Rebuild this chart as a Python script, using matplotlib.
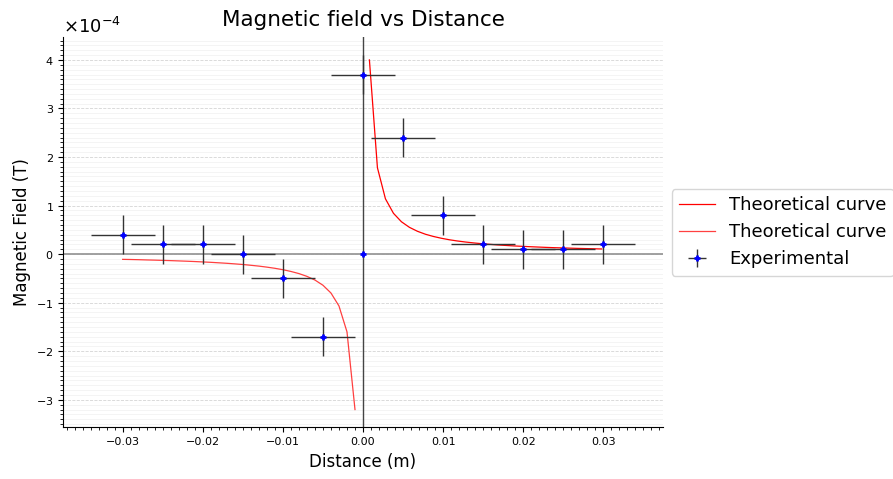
import numpy as np
import matplotlib
matplotlib.use('Agg')
import matplotlib.pyplot as plt
from matplotlib.ticker import MultipleLocator

# experimental data (distance in m, field in T)
exp_x = [-0.03, -0.025, -0.02, -0.015, -0.01, -0.005, 0.0, 0.0,
         0.005, 0.01, 0.015, 0.02, 0.025, 0.03]
exp_y = [0.4e-4, 0.2e-4, 0.2e-4, 0.0, -0.5e-4, -1.7e-4, 0.0, 3.7e-4,
         2.4e-4, 0.8e-4, 0.2e-4, 0.1e-4, 0.1e-4, 0.2e-4]
exp_xerr = [0.004, 0.004, 0.004, 0.004, 0.004, 0.004, 0.0, 0.004,
            0.004, 0.004, 0.004, 0.004, 0.004, 0.004]
exp_yerr = [0.4e-4, 0.4e-4, 0.4e-4, 0.4e-4, 0.4e-4, 0.4e-4, 0.0, 0.4e-4,
            0.4e-4, 0.4e-4, 0.4e-4, 0.4e-4, 0.4e-4, 0.4e-4]

# theoretical curve, positive side (units 1e-4 T)
theo_pos_x = [0.0008, 0.0018, 0.0028, 0.0038, 0.0048, 0.0058, 0.0068, 0.0078,
              0.0088, 0.0098, 0.0108, 0.0118, 0.0128, 0.0138, 0.0148, 0.0158,
              0.0168, 0.0178, 0.0188, 0.0198, 0.0208, 0.0218, 0.0228, 0.0238,
              0.0248, 0.0258, 0.0268, 0.0278, 0.0288, 0.0298]
theo_pos_y = [4.00, 1.78, 1.14, 0.842, 0.667, 0.552, 0.471, 0.410,
              0.364, 0.327, 0.296, 0.271, 0.250, 0.232, 0.216, 0.203,
              0.190, 0.180, 0.170, 0.162, 0.154, 0.147, 0.140, 0.134,
              0.129, 0.124, 0.119, 0.115, 0.111, 0.107]

# theoretical curve, negative side
theo_neg_x = [-0.030, -0.029, -0.028, -0.027, -0.026, -0.025, -0.024, -0.023,
              -0.022, -0.021, -0.020, -0.019, -0.018, -0.017, -0.016, -0.015,
              -0.014, -0.013, -0.012, -0.011, -0.010, -0.009, -0.008, -0.007,
              -0.006, -0.005, -0.004, -0.003, -0.002, -0.001]
theo_neg_y = [-0.107, -0.110, -0.114, -0.119, -0.123, -0.128, -0.133, -0.139,
              -0.145, -0.152, -0.160, -0.168, -0.178, -0.188, -0.200, -0.213,
              -0.229, -0.246, -0.267, -0.291, -0.320, -0.356, -0.400, -0.457,
              -0.533, -0.640, -0.800, -1.067, -1.600, -3.200]

fig, ax = plt.subplots(figsize=(8.93, 4.79), dpi=100)
fig.subplots_adjust(left=0.071, right=0.742, top=0.922, bottom=0.108)

ax.plot(theo_pos_x, np.array(theo_pos_y) * 1e-4, color='red', lw=0.9,
        label='Theoretical curve')
ax.plot(theo_neg_x, np.array(theo_neg_y) * 1e-4, color='red', lw=0.9,
        alpha=0.75, label='Theoretical curve')
ax.errorbar(exp_x, exp_y, xerr=exp_xerr, yerr=exp_yerr, fmt='+', color='blue',
            ms=5, mew=2, ecolor='#333333', elinewidth=1, label='Experimental')

ax.axhline(0, color='#999999', lw=1.3, zorder=1)
ax.axvline(0, color='#444444', lw=1.0, zorder=1)

ax.xaxis.set_major_locator(MultipleLocator(0.01))
ax.xaxis.set_minor_locator(MultipleLocator(0.001))
ax.yaxis.set_minor_locator(MultipleLocator(0.1e-4))
ax.ticklabel_format(axis='y', style='sci', scilimits=(-4, -4), useMathText=True)
ax.grid(axis='y', which='major', linestyle='--', color='#d5d5d5', lw=0.6)
ax.grid(axis='y', which='minor', linestyle='-', color='#f0f0f0', lw=0.5)
ax.set_axisbelow(True)

ax.spines['top'].set_visible(False)
ax.spines['right'].set_visible(False)
ax.tick_params(axis='both', which='major', labelsize=8)
ax.yaxis.get_offset_text().set_fontsize(13)

ax.set_title('Magnetic field vs Distance', fontsize=15.5, pad=8)
ax.set_xlabel('Distance (m)', fontsize=12)
ax.set_ylabel('Magnetic Field (T)', fontsize=12)

ax.legend(loc='center left', bbox_to_anchor=(1.0, 0.5), fontsize=13)

fig.savefig('out.png', dpi=100)
